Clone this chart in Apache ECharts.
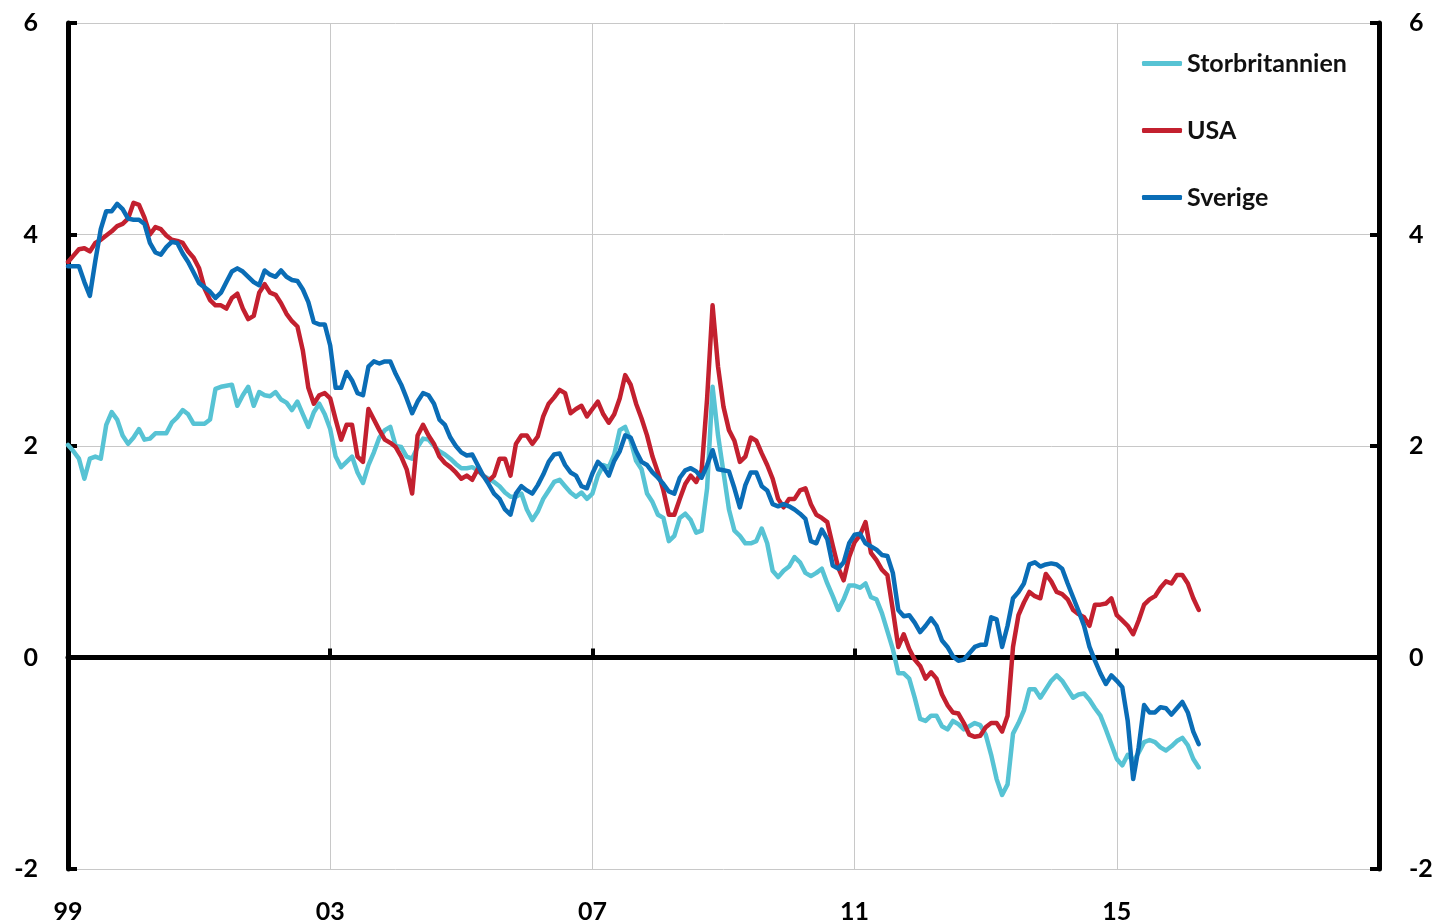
<!DOCTYPE html>
<html>
<head>
<meta charset="utf-8">
<script src="https://cdn.jsdelivr.net/npm/echarts@6/dist/echarts.min.js"></script>
<style>
html,body{margin:0;padding:0;background:#fff;}
#chart{width:1436px;height:924px;}
</style>
</head>
<body>
<div id="chart"></div>
<script>
// Monthly data, Jan 1999 onwards (index = months since Jan 1999)
const startYear = 1999;
const seriesNames = ['Storbritannien', 'USA', 'Sverige'];
const xTickLabels = ['99', '03', '07', '11', '15', ''];
const yTicks = [-2, 0, 2, 4, 6];

const storbritannien = [
  2.01, 1.95, 1.88, 1.69, 1.88, 1.90, 1.88, 2.20, 2.32, 2.25, 2.10, 2.02,
  2.08, 2.16, 2.06, 2.07, 2.12, 2.12, 2.12, 2.22, 2.27, 2.34, 2.30, 2.21,
  2.21, 2.21, 2.25, 2.54, 2.56, 2.57, 2.58, 2.38, 2.48, 2.56, 2.38, 2.51,
  2.48, 2.47, 2.51, 2.44, 2.41, 2.34, 2.42, 2.30, 2.18, 2.32, 2.40, 2.30,
  2.16, 1.90, 1.80, 1.85, 1.90, 1.75, 1.65, 1.82, 1.94, 2.08, 2.15, 2.18,
  2.00, 1.99, 1.90, 1.88, 1.99, 2.07, 2.06, 2.00, 1.95, 1.92, 1.88, 1.83,
  1.79, 1.79, 1.80, 1.77, 1.72, 1.69, 1.66, 1.62, 1.56, 1.52, 1.52, 1.55,
  1.40, 1.30, 1.38, 1.50, 1.58, 1.66, 1.68, 1.62, 1.56, 1.52, 1.56, 1.50,
  1.55, 1.72, 1.82, 1.80, 1.92, 2.15, 2.18, 2.05, 1.86, 1.78, 1.55, 1.47,
  1.35, 1.32, 1.10, 1.15, 1.32, 1.36, 1.30, 1.18, 1.20, 1.60, 2.56, 2.10,
  1.75, 1.40, 1.20, 1.15, 1.08, 1.08, 1.10, 1.22, 1.08, 0.82, 0.76, 0.82,
  0.86, 0.95, 0.90, 0.80, 0.77, 0.80, 0.84, 0.70, 0.58, 0.45, 0.55, 0.68,
  0.68, 0.66, 0.70, 0.57, 0.55, 0.42, 0.25, 0.08, -0.15, -0.15, -0.20, -0.38,
  -0.58, -0.60, -0.55, -0.55, -0.65, -0.68, -0.60, -0.63, -0.68, -0.65, -0.62, -0.64,
  -0.73, -0.92, -1.15, -1.30, -1.20, -0.72, -0.62, -0.50, -0.30, -0.30, -0.38, -0.30,
  -0.22, -0.17, -0.22, -0.30, -0.38, -0.35, -0.34, -0.40, -0.48, -0.55, -0.68, -0.82,
  -0.96, -1.02, -0.92, -0.98, -0.90, -0.80, -0.78, -0.80, -0.85, -0.88, -0.84, -0.79,
  -0.76, -0.83, -0.96, -1.04
];

const usa = [
  3.74, 3.80, 3.86, 3.87, 3.84, 3.92, 3.95, 3.99, 4.03, 4.08, 4.10, 4.15,
  4.30, 4.28, 4.16, 4.00, 4.07, 4.05, 3.99, 3.95, 3.94, 3.92, 3.84, 3.78,
  3.68, 3.49, 3.38, 3.33, 3.33, 3.30, 3.40, 3.44, 3.30, 3.20, 3.23, 3.45,
  3.53, 3.45, 3.43, 3.35, 3.25, 3.18, 3.13, 2.90, 2.55, 2.40, 2.48, 2.50,
  2.45, 2.25, 2.06, 2.20, 2.20, 1.90, 1.85, 2.35, 2.25, 2.15, 2.06, 2.03,
  1.99, 1.90, 1.78, 1.55, 2.10, 2.20, 2.10, 2.02, 1.90, 1.84, 1.80, 1.75,
  1.69, 1.72, 1.68, 1.78, 1.72, 1.67, 1.72, 1.88, 1.88, 1.72, 2.02, 2.10,
  2.10, 2.02, 2.09, 2.28, 2.40, 2.46, 2.53, 2.50, 2.31, 2.35, 2.38, 2.28,
  2.35, 2.42, 2.30, 2.22, 2.30, 2.45, 2.67, 2.58, 2.40, 2.26, 2.10, 1.90,
  1.75, 1.58, 1.35, 1.35, 1.50, 1.64, 1.72, 1.66, 1.77, 2.45, 3.33, 2.75,
  2.37, 2.15, 2.05, 1.85, 1.90, 2.08, 2.05, 1.93, 1.82, 1.69, 1.50, 1.42,
  1.50, 1.50, 1.58, 1.60, 1.45, 1.35, 1.32, 1.28, 1.06, 0.85, 0.73, 0.95,
  1.09, 1.16, 1.28, 0.99, 0.92, 0.83, 0.78, 0.45, 0.10, 0.22, 0.08, -0.02,
  -0.08, -0.20, -0.14, -0.20, -0.35, -0.45, -0.52, -0.53, -0.62, -0.73, -0.75, -0.74,
  -0.66, -0.62, -0.62, -0.70, -0.55, 0.10, 0.40, 0.52, 0.62, 0.58, 0.56, 0.79,
  0.72, 0.62, 0.60, 0.55, 0.45, 0.41, 0.38, 0.30, 0.50, 0.50, 0.51, 0.56,
  0.40, 0.35, 0.30, 0.22, 0.35, 0.50, 0.55, 0.58, 0.66, 0.72, 0.70, 0.78,
  0.78, 0.70, 0.56, 0.45
];

const sverige = [
  3.70, 3.70, 3.70, 3.55, 3.42, 3.75, 4.05, 4.22, 4.22, 4.29, 4.24, 4.15,
  4.14, 4.14, 4.10, 3.92, 3.83, 3.81, 3.88, 3.93, 3.92, 3.82, 3.74, 3.64,
  3.54, 3.50, 3.46, 3.40, 3.45, 3.55, 3.65, 3.68, 3.65, 3.60, 3.55, 3.52,
  3.66, 3.62, 3.60, 3.66, 3.60, 3.57, 3.56, 3.48, 3.36, 3.17, 3.15, 3.15,
  2.95, 2.55, 2.55, 2.70, 2.62, 2.50, 2.48, 2.75, 2.80, 2.78, 2.80, 2.80,
  2.68, 2.58, 2.45, 2.31, 2.42, 2.50, 2.48, 2.40, 2.25, 2.20, 2.08, 2.00,
  1.94, 1.91, 1.92, 1.82, 1.72, 1.64, 1.55, 1.50, 1.40, 1.35, 1.55, 1.62,
  1.58, 1.55, 1.63, 1.73, 1.85, 1.92, 1.93, 1.82, 1.75, 1.72, 1.62, 1.60,
  1.74, 1.85, 1.80, 1.72, 1.86, 1.95, 2.10, 2.08, 1.95, 1.85, 1.82, 1.75,
  1.70, 1.64, 1.57, 1.55, 1.70, 1.77, 1.79, 1.76, 1.70, 1.82, 1.96, 1.78,
  1.77, 1.76, 1.60, 1.42, 1.63, 1.75, 1.75, 1.62, 1.58, 1.45, 1.43, 1.45,
  1.43, 1.40, 1.36, 1.31, 1.10, 1.08, 1.21, 1.12, 0.87, 0.84, 0.90, 1.08,
  1.16, 1.17, 1.08, 1.05, 1.02, 0.97, 0.96, 0.80, 0.45, 0.39, 0.40, 0.33,
  0.24, 0.30, 0.37, 0.30, 0.16, 0.10, 0.01, -0.03, -0.02, 0.04, 0.10, 0.12,
  0.12, 0.38, 0.36, 0.10, 0.30, 0.56, 0.62, 0.70, 0.88, 0.90, 0.86, 0.88,
  0.89, 0.88, 0.84, 0.70, 0.57, 0.44, 0.30, 0.10, -0.03, -0.15, -0.25, -0.17,
  -0.22, -0.28, -0.60, -1.15, -0.85, -0.45, -0.52, -0.52, -0.47, -0.48, -0.54, -0.48,
  -0.42, -0.52, -0.70, -0.82
];

const colors = ['#57C3D4', '#C3202F', '#0A6DB6'];
const FONT = 'Lato';

function toPairs(arr) { return arr.map((v, i) => [i, v]); }

const chart = echarts.init(document.getElementById('chart'), null, {renderer: 'canvas'});

const monthsSpan = 240, tickStep = 48;
const lbl = {fontFamily: FONT, fontWeight: 'bold', fontSize: 25, color: '#000'};

const option = {
  animation: false,
  backgroundColor: '#fff',
  grid: {left: 68, right: 57, top: 23, bottom: 55, containLabel: false},
  legend: {
    orient: 'vertical', left: 1137, top: 46,
    itemWidth: 40, itemHeight: 5, itemGap: 42, icon: 'roundRect',
    textStyle: {fontFamily: FONT, fontWeight: 'bold', fontSize: 25, color: '#111', lineHeight: 25},
    data: seriesNames
  },
  xAxis: [
    {
      type: 'value', min: 0, max: monthsSpan, interval: tickStep,
      axisLine: {onZero: true, lineStyle: {color: '#000', width: 5}},
      axisTick: {show: true, inside: true, length: 9, lineStyle: {color: '#000', width: 4}},
      axisLabel: {show: false},
      splitLine: {show: false}
    },
    {
      type: 'value', min: 0, max: monthsSpan, interval: tickStep, position: 'bottom',
      axisLine: {show: false, onZero: false},
      axisTick: {show: false},
      axisLabel: Object.assign({margin: 30, formatter: v => xTickLabels[Math.round(v / tickStep)] || ''}, lbl),
      splitLine: {show: true, lineStyle: {color: '#c8c8c8', width: 1}}
    }
  ],
  yAxis: [
    {
      type: 'value', min: yTicks[0], max: yTicks[yTicks.length - 1], interval: 2, position: 'left',
      axisLine: {show: true, onZero: false, lineStyle: {color: '#000', width: 5}},
      axisTick: {show: true, inside: true, length: 9, lineStyle: {color: '#000', width: 4}},
      axisLabel: Object.assign({margin: 30}, lbl),
      splitLine: {show: true, lineStyle: {color: '#c8c8c8', width: 1}}
    },
    {
      type: 'value', min: yTicks[0], max: yTicks[yTicks.length - 1], interval: 2, position: 'right',
      axisLine: {show: true, onZero: false, lineStyle: {color: '#000', width: 5}},
      axisTick: {show: true, inside: true, length: 9, lineStyle: {color: '#000', width: 4}},
      axisLabel: Object.assign({margin: 30}, lbl),
      splitLine: {show: false}
    }
  ],
  series: [storbritannien, usa, sverige].map((arr, k) => ({
    name: seriesNames[k],
    type: 'line',
    xAxisIndex: 0, yAxisIndex: 0,
    data: toPairs(arr),
    symbol: 'none',
    lineStyle: {width: 4.5, color: colors[k], join: 'round', cap: 'round'},
    itemStyle: {color: colors[k]},
    z: 2 + k
  }))
};
chart.setOption(option);
</script>
</body>
</html>
